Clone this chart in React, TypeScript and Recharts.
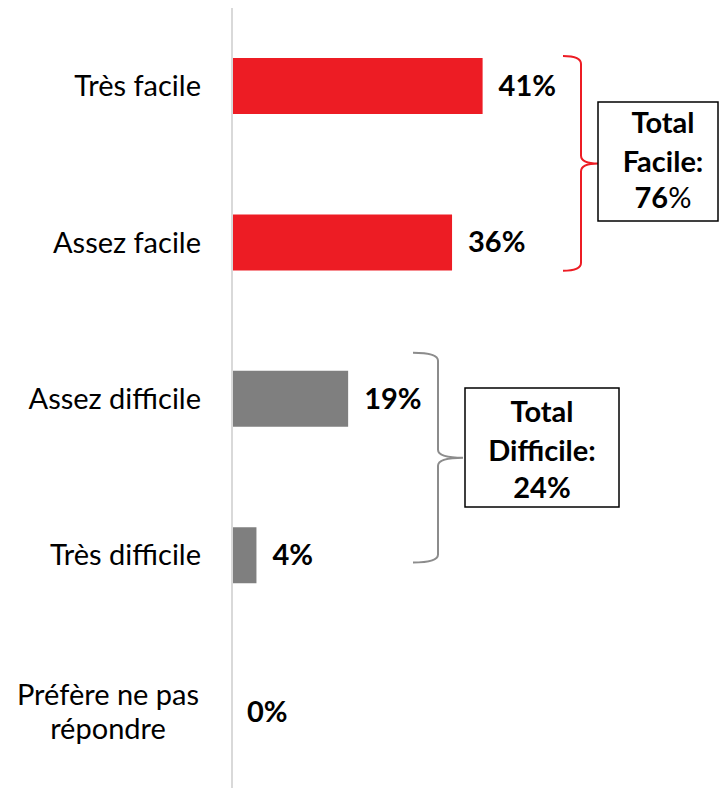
import { Bar, BarChart, Cell, LabelList, XAxis, YAxis } from "recharts";

const categories = [
  "Très facile",
  "Assez facile",
  "Assez difficile",
  "Très difficile",
  "Préfère ne pas\nrépondre",
];
const values = [41, 36, 19, 4, 0];
const groups = ["facile", "facile", "difficile", "difficile", "autre"];
const totalFacile = 76;
const totalDifficile = 24;

const red = "#ED1C24";
const grey = "#7F7F7F";
const bracketGrey = "#8C8C8C";
const axisGrey = "#D9D9D9";
const font = "Lato, 'Open Sans', sans-serif";
const FS = 29;

const W = 721;
const H = 790;
const AXIS_W = 232;
const TOP = 8;
const BAND = (H - TOP) / categories.length;

const data = categories.map((name, i) => ({ name, value: values[i], group: groups[i] }));

function CategoryTick(props: any) {
  const { y, payload } = props;
  const lines = String(payload.value).split("\n");
  const entry = data.find((d) => d.name === payload.value);
  // zero-length bars are not drawn, so their value label is drawn here
  const zeroLabel =
    entry && entry.value === 0 ? (
      <text x={AXIS_W + 15} y={y} dy={10} fontSize={FS} fontWeight="bold" fill="#000" fontFamily={font}>
        {entry.value}%
      </text>
    ) : null;
  if (lines.length > 1) {
    return (
      <g>
        <text x={108} y={y} textAnchor="middle" fontSize={FS} fill="#000" fontFamily={font}>
          {lines.map((l, i) => (
            <tspan key={i} x={108} dy={i === 0 ? -7 : 34}>
              {l}
            </tspan>
          ))}
        </text>
        {zeroLabel}
      </g>
    );
  }
  return (
    <g>
      <text x={201} y={y} dy={10} textAnchor="end" fontSize={FS} fill="#000" fontFamily={font}>
        {lines[0]}
      </text>
      {zeroLabel}
    </g>
  );
}

function ValueLabel(props: any) {
  const { x, y, width, height, value } = props;
  return (
    <text
      x={Number(x) + Number(width) + 16}
      y={Number(y) + Number(height) / 2 + 10}
      fontSize={FS}
      fontWeight="bold"
      fill="#000"
      fontFamily={font}
    >
      {value}%
    </text>
  );
}

// curly bracket opening to the right, tip at (tipX, midY)
function bracePath(x0: number, x1: number, tipX: number, y0: number, y1: number) {
  const mid = (y0 + y1) / 2;
  return [
    `M${x0},${y0}`,
    `Q${x1},${y0} ${x1},${y0 + 8}`,
    `L${x1},${mid - 8}`,
    `Q${x1},${mid} ${tipX},${mid}`,
    `Q${x1},${mid} ${x1},${mid + 8}`,
    `L${x1},${y1 - 8}`,
    `Q${x1},${y1} ${x0},${y1}`,
  ].join(" ");
}

function Annotations() {
  const fY = [TOP + BAND * 0 + 48, TOP + BAND * 2 - 50];
  const dY = [TOP + BAND * 2 + 32, TOP + BAND * 4 - 71];
  const t = { textAnchor: "middle" as const, fontSize: FS, fontFamily: font };
  return (
    <svg width={W} height={788} style={{ position: "absolute", left: 0, top: 0, pointerEvents: "none" }}>
      <path d={bracePath(563, 581, 598, fY[0], fY[1])} fill="none" stroke={red} strokeWidth={2} />
      <rect x={598} y={102} width={120} height={119} fill="#fff" stroke="#000" strokeWidth={1.5} />
      <text x={663} y={133} {...t} fontWeight="bold">
        Total
      </text>
      <text x={663} y={172} {...t} fontWeight="bold">
        Facile:
      </text>
      <text x={663} y={208} {...t}>
        <tspan fontWeight="bold">{totalFacile}</tspan>%
      </text>

      <path d={bracePath(413, 438, 463, dY[0], dY[1])} fill="none" stroke={bracketGrey} strokeWidth={2} />
      <rect x={465} y={388} width={154} height={119} fill="#fff" stroke="#000" strokeWidth={1.5} />
      <text x={542} y={422} {...t} fontWeight="bold">
        Total
      </text>
      <text x={542} y={461} {...t} fontWeight="bold">
        Difficile:
      </text>
      <text x={542} y={498} {...t} fontWeight="bold">
        {totalDifficile}%
      </text>
    </svg>
  );
}

export default function App() {
  return (
    <div style={{ position: "absolute", left: 0, top: 0, width: W, height: 788, overflow: "hidden", background: "#fff" }}>
      <BarChart
        width={W}
        height={H}
        data={data}
        layout="vertical"
        margin={{ top: TOP, right: 0, bottom: 0, left: 0 }}
      >
        <XAxis type="number" domain={[0, 80]} hide />
        <YAxis
          type="category"
          dataKey="name"
          width={AXIS_W}
          tickLine={false}
          axisLine={{ stroke: axisGrey, strokeWidth: 2 }}
          tick={<CategoryTick />}
          interval={0}
        />
        <Bar dataKey="value" barSize={56} isAnimationActive={false}>
          {data.map((d) => (
            <Cell key={d.name} fill={d.group === "facile" ? red : grey} />
          ))}
          <LabelList dataKey="value" content={<ValueLabel />} />
        </Bar>
      </BarChart>
      <Annotations />
    </div>
  );
}
